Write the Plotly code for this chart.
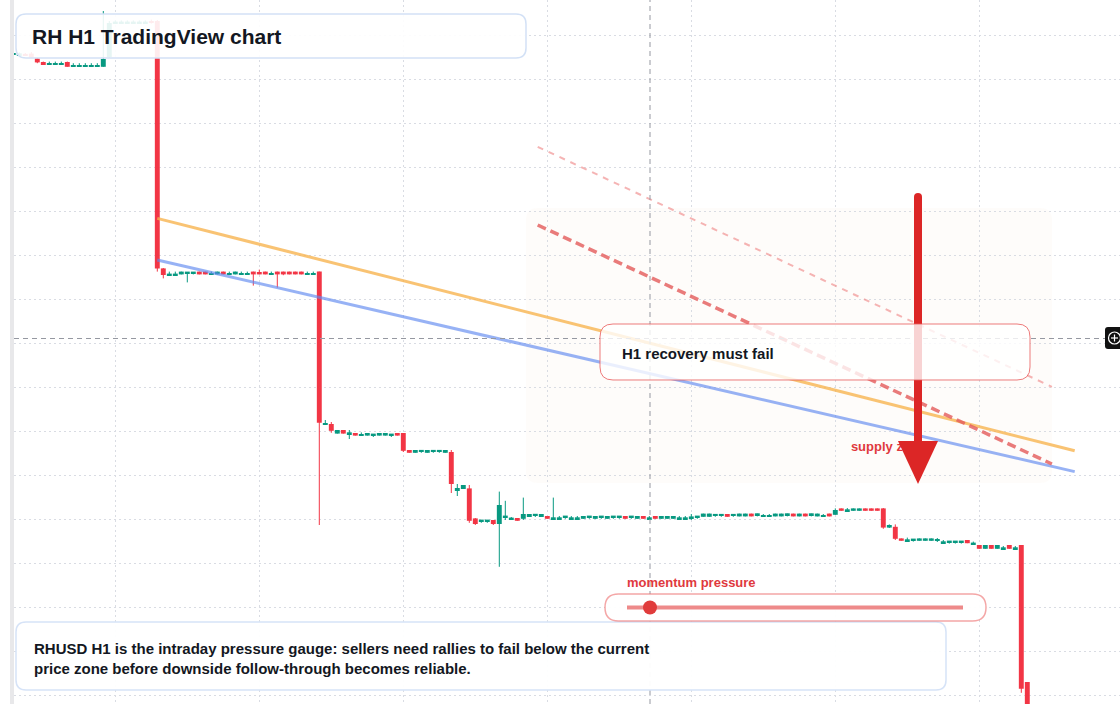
import plotly.graph_objects as go

# ---------------- data ----------------
# hourly candles, index 0..169
open_ = [
    286.25, 286.4, 286.5, 286.6, 285.4, 284.5, 283.9, 283.9, 283.9, 284.5,
    283.4, 283.4, 283.4, 283.4, 283.4, 283.3, 285.75, 294.25, 294.25, 294.25,
    294.25, 294.25, 294.25, 294.75, 294.75, 232.9, 231.25, 231.25, 231.4, 231.75,
    231.75, 232.1, 232.1, 231.4, 231.4, 232.1, 231.4, 231.4, 231.4, 231.4,
    232.1, 232.0, 232.1, 231.4, 232.1, 232.1, 232.1, 232.1, 232.1, 231.4,
    231.4, 232.1, 193.75, 194.0, 191.6, 192.5, 191.6, 191.75, 191.1, 191.1,
    191.25, 191.1, 191.1, 191.25, 191.75, 191.75, 187.5, 186.8, 187.2, 186.8,
    187.2, 187.2, 186.8, 187.0, 177.25, 177.75, 177.9, 170.4, 169.75, 169.75,
    170.0, 169.0, 170.75, 170.25, 170.5, 170.3, 170.75, 171.25, 170.75, 171.0,
    170.3, 170.3, 170.75, 170.3, 170.3, 170.3, 170.75, 170.3, 170.75, 170.3,
    170.75, 170.75, 171.0, 170.75, 170.3, 171.0, 170.3, 171.0, 170.3, 170.3,
    170.3, 170.3, 170.3, 170.6, 170.75, 170.8, 170.8, 171.2, 171.2, 171.5,
    171.2, 170.9, 170.9, 171.6, 171.3, 170.9, 170.9, 170.9, 170.9, 171.3,
    171.6, 170.9, 171.6, 171.3, 170.9, 170.9, 171.6, 171.3, 172.9, 172.3,
    172.3, 172.3, 172.9, 172.9, 172.9, 172.9, 168.1, 168.3, 165.4, 164.8,
    165.0, 164.8, 164.8, 164.8, 164.9, 164.3, 164.5, 164.5, 164.5, 165.0,
    164.0, 163.75, 162.8, 163.75, 162.8, 162.8, 163.75, 162.8, 163.75, 129.5,
]
high = [
    287.0, 286.9, 286.75, 287.0, 285.6, 284.6, 284.6, 284.6, 284.6, 284.6,
    284.2, 284.2, 284.2, 284.2, 284.2, 297.25, 294.75, 294.9, 294.9, 294.9,
    294.9, 294.9, 294.9, 295.1, 295.0, 233.0, 232.1, 232.1, 232.1, 232.0,
    232.0, 232.1, 232.1, 232.1, 232.1, 232.1, 232.1, 232.1, 232.1, 232.1,
    232.1, 232.6, 232.1, 232.1, 232.1, 232.1, 232.1, 232.1, 232.1, 232.1,
    232.1, 232.1, 195.0, 194.5, 192.5, 192.5, 192.5, 191.75, 191.9, 191.75,
    191.5, 191.75, 191.75, 191.5, 191.75, 191.75, 187.5, 187.5, 187.4, 187.5,
    187.4, 187.4, 187.5, 187.5, 179.0, 178.75, 178.75, 170.5, 170.0, 170.0,
    170.0, 177.1, 174.8, 170.75, 170.5, 175.6, 171.5, 171.4, 171.5, 171.0,
    175.6, 171.0, 171.0, 171.0, 171.0, 171.0, 171.0, 171.0, 171.0, 171.0,
    171.0, 171.0, 171.0, 171.0, 171.0, 171.0, 171.0, 171.0, 171.0, 171.0,
    171.0, 171.0, 171.0, 171.5, 171.0, 171.6, 171.6, 171.4, 171.4, 171.5,
    171.4, 171.6, 171.6, 171.6, 171.6, 171.5, 171.5, 171.6, 171.6, 171.6,
    171.6, 171.6, 171.6, 171.6, 171.6, 171.5, 171.6, 172.9, 172.9, 173.0,
    172.9, 172.9, 172.9, 172.9, 172.9, 173.0, 168.9, 168.9, 165.4, 165.6,
    165.25, 165.4, 165.4, 165.4, 165.5, 165.0, 164.75, 164.75, 164.75, 165.0,
    164.6, 163.75, 163.75, 163.75, 163.75, 163.5, 163.75, 163.5, 163.75, 129.5,
]
low = [
    286.0, 286.4, 286.0, 285.5, 284.2, 283.75, 283.9, 283.9, 283.9, 283.3,
    283.4, 283.4, 283.4, 283.4, 283.4, 283.3, 285.5, 294.25, 294.25, 294.25,
    294.25, 294.25, 294.25, 294.1, 232.1, 230.4, 231.25, 231.25, 231.4, 229.4,
    231.4, 231.4, 231.4, 231.4, 231.4, 231.4, 231.4, 231.4, 231.4, 231.4,
    228.6, 231.4, 231.4, 231.4, 228.1, 231.2, 231.4, 231.4, 231.4, 231.4,
    231.4, 168.75, 193.75, 191.8, 191.6, 191.6, 190.25, 191.1, 191.1, 191.1,
    190.75, 191.1, 191.1, 190.75, 191.1, 187.0, 186.8, 186.8, 186.8, 186.8,
    186.8, 186.8, 186.8, 176.75, 176.0, 177.75, 169.3, 168.75, 169.3, 169.3,
    168.75, 158.3, 170.0, 170.0, 169.8, 170.0, 170.75, 170.75, 170.75, 170.3,
    170.3, 170.3, 170.3, 170.3, 170.3, 170.3, 170.3, 170.3, 170.3, 170.3,
    170.3, 170.3, 170.3, 170.3, 170.3, 170.3, 170.3, 170.3, 170.3, 170.3,
    170.3, 170.3, 170.3, 170.0, 170.3, 170.8, 170.8, 170.8, 170.8, 170.8,
    170.8, 170.9, 170.9, 170.9, 170.9, 170.9, 170.9, 170.9, 170.9, 170.9,
    170.9, 170.9, 170.9, 170.9, 170.9, 170.9, 170.9, 171.3, 172.3, 172.3,
    172.3, 172.3, 172.3, 172.3, 172.3, 167.8, 168.0, 165.0, 164.8, 164.8,
    164.6, 164.8, 164.8, 164.8, 164.5, 164.3, 164.1, 164.1, 164.1, 164.2,
    164.0, 162.8, 162.8, 162.8, 162.8, 162.8, 162.8, 162.8, 126.8, 118.75,
]
close = [
    286.75, 286.5, 286.1, 285.6, 284.4, 283.75, 284.1, 284.1, 284.1, 283.3,
    283.6, 283.6, 283.6, 283.6, 283.6, 285.25, 294.25, 294.5, 294.5, 294.5,
    294.5, 294.5, 294.5, 294.25, 232.9, 231.25, 231.5, 231.5, 232.1, 232.0,
    232.0, 231.4, 231.4, 231.6, 232.1, 231.4, 231.6, 232.1, 231.6, 231.6,
    231.4, 231.4, 231.4, 231.6, 231.4, 231.4, 231.4, 231.4, 231.4, 231.6,
    231.6, 194.3, 194.2, 192.3, 192.5, 191.6, 191.8, 191.1, 191.4, 191.75,
    191.5, 191.75, 191.75, 191.5, 191.1, 187.3, 186.8, 187.5, 187.4, 187.5,
    187.4, 187.4, 187.5, 179.0, 178.0, 178.75, 169.8, 169.0, 170.0, 170.0,
    169.0, 173.75, 171.0, 170.5, 169.8, 171.5, 171.5, 171.4, 171.5, 170.3,
    170.6, 170.6, 171.0, 170.6, 170.6, 171.0, 171.0, 171.0, 171.0, 171.0,
    171.0, 171.0, 170.3, 171.0, 171.0, 170.3, 170.6, 170.3, 171.0, 171.0,
    171.0, 170.6, 170.6, 170.75, 171.0, 171.6, 171.6, 171.4, 171.4, 170.8,
    171.4, 171.6, 171.6, 170.9, 171.6, 171.1, 171.1, 171.6, 171.6, 171.6,
    170.9, 171.6, 170.9, 171.6, 171.6, 171.1, 170.9, 172.5, 172.3, 172.6,
    172.9, 172.9, 172.3, 172.3, 172.3, 168.1, 168.75, 165.3, 164.8, 165.1,
    165.25, 165.4, 165.4, 165.4, 165.1, 164.6, 164.75, 164.75, 164.75, 164.2,
    164.25, 162.8, 163.75, 162.8, 163.75, 163.1, 162.8, 163.1, 127.8, 120.0,
]

# drawn trend lines: [start, end] as (candle index, price)
orange_x = [24, 176.9]
orange_y = [245.4, 187.3]
blue_x = [24, 176.9]
blue_y = [235.0, 182.1]
red_dash_x = [87.4, 173.1]
red_dash_y = [243.75, 184.0]
pink_dash_x = [87.4, 173.1]
pink_dash_y = [263.3, 203.3]

title = "RH H1 TradingView chart"
box_label = "H1 recovery must fail"
zone_label = "supply zone"
gauge_label = "momentum pressure"
note = ("RHUSD H1 is the intraday pressure gauge: sellers need rallies to fail below the current"
        "<br>price zone before downside follow-through becomes reliable.")

# ---------------- styling / layout helpers ----------------
UP = "#089981"
DN = "#f23645"
FONT = "Arial, Liberation Sans, sans-serif"
INK = "#131722"
LBL_RED = "#e0393e"
MIN_BODY = 0.45

W, H = 1120, 704
ML = 14
PW = W - ML


def px(x):
    return (x - ML) / PW


def py(y):
    return 1 - y / H


def rrect(x0, y0, x1, y1, r):
    X = lambda v: f"{px(v):.5f}"
    Y = lambda v: f"{py(v):.5f}"
    return (f"M {X(x0 + r)},{Y(y0)} L {X(x1 - r)},{Y(y0)} Q {X(x1)},{Y(y0)} {X(x1)},{Y(y0 + r)} "
            f"L {X(x1)},{Y(y1 - r)} Q {X(x1)},{Y(y1)} {X(x1 - r)},{Y(y1)} "
            f"L {X(x0 + r)},{Y(y1)} Q {X(x0)},{Y(y1)} {X(x0)},{Y(y1 - r)} "
            f"L {X(x0)},{Y(y0 + r)} Q {X(x0)},{Y(y0)} {X(x0 + r)},{Y(y0)} Z")


def pshape(**kw):
    d = dict(xref="paper", yref="paper", layer="above")
    d.update(kw)
    return d


# ---------------- candles ----------------
idx = list(range(len(open_)))
bases, heights, colors = [], [], []
for o, c in zip(open_, close):
    lo_, hi_ = min(o, c), max(o, c)
    if hi_ - lo_ >= MIN_BODY:
        bases.append(lo_)
        heights.append(hi_ - lo_)
    else:
        bases.append((lo_ + hi_) / 2 - MIN_BODY / 2)
        heights.append(MIN_BODY)
    colors.append(UP if c >= o else DN)

wx_up, wy_up, wx_dn, wy_dn = [], [], [], []
for i, (o, hh, ll, c) in enumerate(zip(open_, high, low, close)):
    if c >= o:
        wx_up += [i, i, None]
        wy_up += [ll, hh, None]
    else:
        wx_dn += [i, i, None]
        wy_dn += [ll, hh, None]

fig = go.Figure()
fig.add_trace(go.Scatter(x=wx_up, y=wy_up, mode="lines", line=dict(color=UP, width=1),
                         hoverinfo="skip", showlegend=False))
fig.add_trace(go.Scatter(x=wx_dn, y=wy_dn, mode="lines", line=dict(color=DN, width=1),
                         hoverinfo="skip", showlegend=False))
fig.add_trace(go.Bar(x=idx, y=heights, base=bases, width=0.82,
                     marker=dict(color=colors, line=dict(width=0)),
                     hoverinfo="skip", showlegend=False))

# trend lines
fig.add_trace(go.Scatter(x=orange_x, y=orange_y, mode="lines",
                         line=dict(color="rgba(247,178,76,0.78)", width=3),
                         hoverinfo="skip", showlegend=False))
fig.add_trace(go.Scatter(x=blue_x, y=blue_y, mode="lines",
                         line=dict(color="rgba(96,136,240,0.65)", width=3),
                         hoverinfo="skip", showlegend=False))
fig.add_trace(go.Scatter(x=red_dash_x, y=red_dash_y, mode="lines",
                         line=dict(color="rgba(228,90,90,0.8)", width=3.5, dash="9px,5px"),
                         hoverinfo="skip", showlegend=False))
fig.add_trace(go.Scatter(x=pink_dash_x, y=pink_dash_y, mode="lines",
                         line=dict(color="rgba(240,140,140,0.65)", width=2, dash="6px,6px"),
                         hoverinfo="skip", showlegend=False))

# "supply zone" label (under the arrow)
fig.add_trace(go.Scatter(x=[139.6], y=[188.0], mode="text", text=[f"<b>{zone_label}</b>"],
                         textposition="middle right",
                         textfont=dict(family=FONT, size=13, color=LBL_RED),
                         hoverinfo="skip", showlegend=False))

shapes = []
# zone background
shapes.append(pshape(type="path", path=rrect(526, 208, 1052, 483, 12), layer="below",
                     fillcolor="rgba(246,206,180,0.07)", line=dict(width=0)))
# crosshair
shapes.append(pshape(type="line", x0=px(650), x1=px(650), y0=0, y1=1,
                     line=dict(color="#9598a1", width=1, dash="5px,4px")))
shapes.append(pshape(type="line", x0=0, x1=px(1105), y0=py(338.5), y1=py(338.5),
                     line=dict(color="#9598a1", width=1, dash="5px,4px")))
# arrow
shapes.append(pshape(type="line", x0=px(918), x1=px(918), y0=py(197), y1=py(446),
                     line=dict(color="#dc2626", width=8)))
shapes.append(pshape(type="circle", x0=px(914), x1=px(922), y0=py(193), y1=py(201),
                     fillcolor="#dc2626", line=dict(width=0)))
shapes.append(pshape(type="path",
                     path=f"M {px(898)},{py(441)} L {px(938)},{py(441)} L {px(918)},{py(484)} Z",
                     fillcolor="#dc2626", line=dict(width=0)))
# recovery box
shapes.append(pshape(type="path", path=rrect(600, 324, 1030, 380, 13),
                     fillcolor="rgba(255,255,255,0.8)", line=dict(color="rgba(232,90,90,0.8)", width=1)))
# title box
shapes.append(pshape(type="path", path=rrect(16, 14, 526, 58, 10),
                     fillcolor="rgba(255,255,255,0.9)", line=dict(color="#d3e1f6", width=1.5)))
# bottom note box
shapes.append(pshape(type="path", path=rrect(16, 622, 946, 690, 10),
                     fillcolor="rgba(255,255,255,0.95)", line=dict(color="#d6e3f7", width=1.5)))
# gauge
shapes.append(pshape(type="path", path=rrect(605, 594, 986, 621, 13.5),
                     fillcolor="rgba(255,255,255,0.95)", line=dict(color="rgba(238,120,120,0.65)", width=1.5)))
shapes.append(pshape(type="line", x0=px(627), x1=px(963), y0=py(607.5), y1=py(607.5),
                     line=dict(color="#ee8a8a", width=4)))
shapes.append(pshape(type="circle", x0=px(643), x1=px(657), y0=py(600.5), y1=py(614.5),
                     fillcolor="#e03c3c", line=dict(width=0)))
# left strip
shapes.append(pshape(type="rect", x0=px(10), x1=px(14), y0=0, y1=1,
                     fillcolor="#e8e8ea", line=dict(width=0)))
# crosshair icon at the right edge
shapes.append(pshape(type="path", path=rrect(1105, 327, 1126, 349, 3),
                     fillcolor="#111111", line=dict(width=0)))
shapes.append(pshape(type="circle", x0=px(1108.5), x1=px(1120.5), y0=py(332), y1=py(344),
                     fillcolor="rgba(0,0,0,0)", line=dict(color="white", width=1.2)))
shapes.append(pshape(type="line", x0=px(1111), x1=px(1118), y0=py(338), y1=py(338),
                     line=dict(color="white", width=1.2)))
shapes.append(pshape(type="line", x0=px(1114.5), x1=px(1114.5), y0=py(334.5), y1=py(341.5),
                     line=dict(color="white", width=1.2)))

annotations = [
    dict(x=px(30), y=py(36), xref="paper", yref="paper", showarrow=False, xanchor="left", yanchor="middle",
         text=f"<b>{title}</b>", font=dict(family=FONT, size=21, color=INK)),
    dict(x=px(620), y=py(353), xref="paper", yref="paper", showarrow=False, xanchor="left", yanchor="middle",
         text=f"<b>{box_label}</b>", font=dict(family=FONT, size=15, color=INK)),
    dict(x=px(32), y=py(658.5), xref="paper", yref="paper", showarrow=False, xanchor="left", yanchor="middle",
         align="left", text=f"<b>{note}</b>", font=dict(family=FONT, size=15, color=INK)),
    dict(x=px(625), y=py(582.5), xref="paper", yref="paper", showarrow=False, xanchor="left", yanchor="middle",
         text=f"<b>{gauge_label}</b>", font=dict(family=FONT, size=13, color=LBL_RED)),
]

fig.update_layout(
    width=W, height=H,
    margin=dict(l=ML, r=0, t=0, b=0),
    paper_bgcolor="white", plot_bgcolor="white",
    showlegend=False, barmode="overlay",
    shapes=shapes, annotations=annotations,
    xaxis=dict(range=[0.1167, 184.45], showticklabels=False, zeroline=False, showline=False,
               showgrid=True, tick0=17, dtick=24, gridcolor="#d9dce3", griddash="2px,3px", gridwidth=1,
               fixedrange=True),
    yaxis=dict(range=[124, 300], showticklabels=False, zeroline=False, showline=False,
               showgrid=True, tick0=291.25, dtick=11, gridcolor="#d9dce3", griddash="2px,3px", gridwidth=1,
               fixedrange=True),
)

fig.write_html("out.html", config={"displayModeBar": False})
